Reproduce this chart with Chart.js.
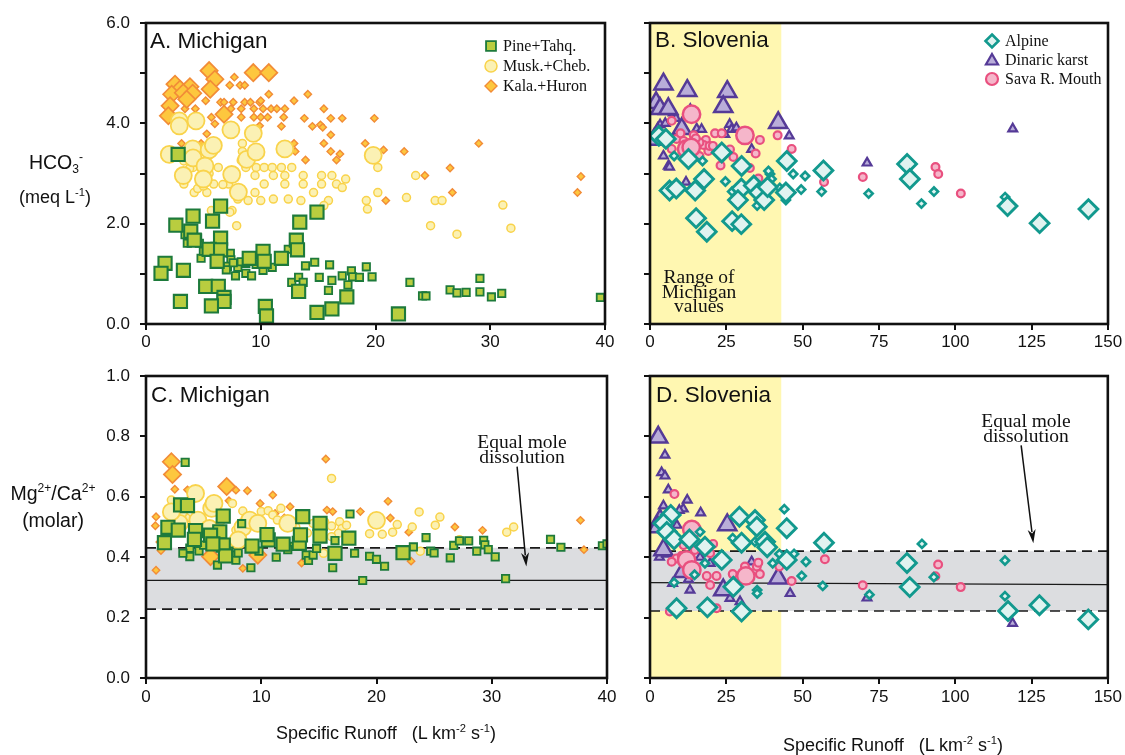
<!DOCTYPE html>
<html><head><meta charset="utf-8">
<script src="https://cdn.jsdelivr.net/npm/chart.js@4.4.1/dist/chart.umd.min.js"></script>
<style>
body{margin:0;background:#fff;width:1125px;height:755px;overflow:hidden;position:relative;font-family:"Liberation Sans",Arial,sans-serif;color:#111;}
canvas{position:absolute;left:0;top:0;}
.t{position:absolute;white-space:nowrap;z-index:5;}
.c{transform:translate(-50%,-50%);text-align:center;}
.l{transform:translate(0,-50%);}
.serif{font-family:"Liberation Serif","Times New Roman",serif;}
sup,sub{font-size:62%;line-height:0;}
.ttl{font-size:22.5px;}
.ax{font-size:19.5px;}
.lg{font-size:16px;}
.ann{font-size:19.5px;line-height:14.6px;}
.xt{font-size:18px;}
</style></head><body>
<canvas id="cA" width="1125" height="755"></canvas>
<canvas id="cB" width="1125" height="755"></canvas>
<canvas id="cC" width="1125" height="755"></canvas>
<canvas id="cD" width="1125" height="755"></canvas>

<div class="t c ax" style="left:56px;top:162px;">HCO<sub>3</sub><sup>-</sup></div>
<div class="t c" style="left:55px;top:197px;font-size:18px;">(meq L<sup>-1</sup>)</div>
<div class="t c ax" style="left:53px;top:493px;">Mg<sup>2+</sup>/Ca<sup>2+</sup></div>
<div class="t c ax" style="left:53px;top:520px;">(molar)</div>
<div class="t c xt" style="left:386px;top:733px;">Specific Runoff&nbsp;&nbsp;&nbsp;(L km<sup>-2</sup> s<sup>-1</sup>)</div>
<div class="t c xt" style="left:893px;top:745px;">Specific Runoff&nbsp;&nbsp;&nbsp;(L km<sup>-2</sup> s<sup>-1</sup>)</div>

<div class="t l ttl" style="left:150px;top:41px;">A. Michigan</div>
<div class="t l ttl" style="left:655px;top:40px;">B. Slovenia</div>
<div class="t l ttl" style="left:151px;top:395px;">C. Michigan</div>
<div class="t l ttl" style="left:656px;top:395px;">D. Slovenia</div>

<div class="t l serif lg" style="left:503px;top:46px;">Pine+Tahq.</div>
<div class="t l serif lg" style="left:503px;top:66px;">Musk.+Cheb.</div>
<div class="t l serif lg" style="left:503px;top:86px;">Kala.+Huron</div>
<div class="t l serif lg" style="left:1005px;top:41px;">Alpine</div>
<div class="t l serif lg" style="left:1005px;top:60px;">Dinaric karst</div>
<div class="t l serif lg" style="left:1005px;top:79px;">Sava R. Mouth</div>

<div class="t c serif ann" style="left:699px;top:292px;">Range of<br>Michigan<br>values</div>
<div class="t c serif ann" style="left:522px;top:450px;">Equal mole<br>dissolution</div>
<div class="t c serif ann" style="left:1026px;top:429px;">Equal mole<br>dissolution</div>

<script>
// ---------------- DATA ----------------
// Panel A: HCO3- (meq/L) vs specific runoff (L km-2 s-1), Michigan
const pineLargeA = [[2.8,3.38],[6.5,2.35],[4.1,2.15],[2.6,1.97],[5.8,2.05],[3.9,1.85],[4.2,1.67],[6.5,1.71],[5.5,1.49],[6.5,1.48],[6.2,1.25],[9.0,1.31],[10.2,1.45],[10.3,1.25],[11.8,1.31],[13.1,1.67],[13.2,1.48],[13.4,2.03],[14.9,2.23],[1.66,1.21],[1.31,1.01],[3.26,1.07],[5.2,0.75],[6.3,0.75],[6.8,0.53],[6.8,0.45],[3.0,0.45],[5.7,0.36],[10.4,0.35],[10.5,0.16],[13.3,0.65],[14.9,0.23],[16.2,0.30],[17.5,0.54],[22.0,0.20]];
const pineSmallA = [[3.4,1.78],[3.6,1.61],[4.65,1.61],[4.8,1.31],[7.35,1.41],[7.4,1.28],[7.1,1.15],[7.0,1.08],[7.8,0.96],[8.0,1.13],[8.7,1.21],[8.7,1.01],[9.2,0.96],[11.0,1.13],[10.2,1.07],[12.4,1.49],[12.7,0.83],[13.3,0.93],[13.7,0.83],[13.9,1.16],[14.7,1.23],[15.1,0.93],[16.0,1.18],[15.9,0.67],[16.2,0.87],[17.1,0.96],[7.6,1.22],[8.3,1.24],[9.6,1.19],[6.0,1.55],[5.0,1.45],[4.5,1.72],[17.9,1.06],[18.0,0.94],[18.6,0.93],[19.2,1.14],[19.7,0.94],[17.6,0.78],[23.0,0.83],[24.1,0.56],[24.4,0.56],[26.5,0.68],[27.1,0.62],[27.9,0.63],[29.1,0.64],[29.1,0.91],[30.1,0.54],[31.0,0.61],[39.6,0.53]];
const muskLargeA = [[2.9,4.05],[2.9,3.95],[4.36,4.05],[7.4,3.87],[9.35,3.80],[2.03,3.38],[4.07,3.49],[5.5,3.47],[5.87,3.56],[4.1,3.31],[8.77,3.28],[9.59,3.43],[12.1,3.49],[5.14,3.15],[3.25,2.96],[5.0,2.89],[7.47,2.98],[8.05,2.63],[19.8,3.36]];
const muskSmallA = [[8.4,3.60],[8.4,3.44],[8.3,3.26],[8.7,3.12],[9.6,3.12],[10.3,3.12],[11.0,3.12],[11.8,3.12],[12.7,3.12],[11.1,2.96],[12.1,2.96],[13.7,2.96],[15.3,2.96],[16.2,2.96],[10.3,2.79],[12.1,2.79],[13.7,2.79],[15.3,2.79],[16.6,2.79],[17.1,2.72],[17.4,2.89],[9.5,2.62],[10.0,2.46],[11.1,2.49],[12.4,2.49],[13.5,2.46],[14.6,2.62],[15.9,2.46],[15.5,2.36],[7.5,2.26],[5.7,2.26],[8.0,2.49],[8.9,2.46],[7.9,1.96],[3.3,2.79],[4.2,2.62],[5.3,2.62],[5.9,2.79],[7.2,2.79],[9.5,2.96],[6.3,3.12],[4.1,3.12],[7.3,2.23],[4.5,2.70],[5.0,2.75],[6.7,2.78],[3.8,3.10],[3.3,3.25],[5.5,3.00],[20.2,3.12],[20.2,2.62],[19.2,2.46],[19.3,2.29],[22.7,2.52],[23.5,2.96],[24.8,1.96],[25.2,2.46],[25.8,2.46],[27.1,1.79],[31.1,2.37],[31.8,1.91]];
const kalaLargeA = [[5.5,5.05],[6.0,4.88],[9.35,5.01],[10.7,5.01],[2.53,4.78],[2.96,4.68],[3.83,4.73],[2.24,4.58],[3.25,4.61],[4.07,4.60],[5.6,4.68],[2.1,4.35],[1.95,4.15],[6.8,4.18],[3.55,4.48]];
const kalaSmallA = [[7.3,4.76],[7.7,4.92],[8.2,4.76],[8.6,4.76],[5.2,4.45],[4.3,4.29],[3.4,4.29],[5.7,4.12],[6.0,3.99],[5.3,3.79],[6.5,4.42],[6.8,4.42],[7.6,4.42],[8.6,4.42],[9.1,4.42],[9.9,4.42],[10.2,4.29],[10.9,4.29],[11.4,4.29],[12.1,4.29],[9.4,4.29],[8.3,4.29],[7.4,4.29],[8.3,4.12],[9.4,4.12],[10.0,4.12],[10.6,4.12],[12.0,4.12],[11.8,3.94],[9.9,3.95],[10.7,4.58],[10.0,4.45],[12.9,4.45],[14.1,4.58],[13.8,4.10],[14.5,3.94],[15.2,3.97],[15.5,4.29],[15.4,3.92],[16.1,4.10],[17.1,4.10],[16.1,3.77],[12.9,3.60],[13.0,3.44],[15.5,3.60],[16.1,3.44],[16.9,3.39],[16.6,3.27],[13.9,3.27],[19.1,3.60],[19.9,4.10],[20.7,3.47],[20.9,2.46],[22.5,3.44],[24.3,2.96],[26.5,3.11],[26.7,2.62],[29.0,3.60],[37.6,2.62],[37.9,2.94],[3.1,3.60],[4.8,3.60]];

// Panel B: HCO3- vs specific runoff, Slovenia
const alpineLargeB = [[2.9,3.75],[5.2,3.69],[12.6,3.29],[23.5,3.42],[17.7,2.89],[30.0,3.15],[44.8,3.25],[6.4,2.66],[8.6,2.70],[14.8,2.66],[15.1,2.11],[18.6,1.84],[26.9,2.05],[29.9,1.99],[29.9,2.70],[28.8,2.47],[34.0,2.76],[35.7,2.62],[37.4,2.47],[38.5,2.73],[44.5,2.62],[56.8,3.06],[84.2,3.19],[85.1,2.89],[117.1,2.35],[127.6,2.01],[143.6,2.29]];
const alpineSmallB = [[7.9,3.35],[17.2,3.25],[24.7,2.84],[26.9,2.64],[35.1,2.36],[39.3,2.99],[39.8,2.89],[42.5,2.71],[44.5,2.47],[46.9,2.99],[49.5,2.68],[50.8,2.95],[56.2,2.64],[71.6,2.60],[88.9,2.40],[93.0,2.64],[116.3,2.53],[38.8,3.05]];
const dinaricLargeB = [[4.4,4.78],[12.2,4.65],[25.3,4.63],[24.0,4.33],[2.0,4.41],[3.3,4.29],[6.0,4.29],[10.4,3.89],[42.0,4.01],[1.4,3.68]];
const dinaricSmallB = [[7.6,4.21],[3.3,3.97],[13.2,4.28],[15.3,3.89],[16.9,3.88],[26.1,3.98],[26.7,3.88],[28.3,3.91],[24.5,3.78],[45.6,3.75],[33.3,3.48],[4.4,3.35],[6.0,3.15],[6.4,3.13],[11.8,2.83],[71.1,3.21],[118.8,3.89],[2.5,3.90],[8.5,4.10],[5.0,4.00]];
const savaLargeB = [[13.6,4.18],[31.1,3.76],[12.0,3.49],[13.5,3.52]];
const savaSmallB = [[7.1,4.05],[21.3,3.80],[23.5,3.80],[18.3,3.67],[26.2,3.48],[27.3,3.33],[36.0,3.67],[41.8,3.76],[46.4,3.49],[17.5,3.57],[19.1,3.45],[23.1,3.16],[32.7,3.11],[35.5,2.90],[7.1,3.49],[8.7,3.69],[16.2,3.35],[14.3,3.76],[16.2,3.62],[19.5,3.55],[20.6,3.55],[34.6,3.40],[57.0,2.83],[69.7,2.93],[93.5,3.13],[94.4,2.99],[101.8,2.60],[10.0,3.80],[11.0,3.65],[15.0,3.70]];

// Panel C: Mg/Ca (molar) vs specific runoff, Michigan
const pineLargeC = [[1.6,0.448],[3.0,0.573],[3.6,0.571],[1.9,0.499],[2.8,0.490],[4.3,0.488],[4.2,0.459],[6.7,0.536],[6.4,0.484],[6.7,0.440],[6.9,0.404],[5.6,0.473],[5.8,0.444],[9.2,0.437],[10.6,0.457],[11.9,0.443],[13.3,0.446],[13.4,0.474],[13.6,0.534],[15.1,0.512],[15.1,0.470],[16.4,0.413],[17.6,0.463],[22.3,0.415],[10.5,0.475]];
const pineSmallC = [[3.4,0.714],[3.8,0.430],[3.8,0.402],[3.2,0.413],[4.6,0.421],[6.2,0.374],[7.7,0.407],[7.8,0.390],[11.3,0.400],[13.9,0.407],[14.1,0.389],[14.5,0.407],[14.8,0.429],[16.2,0.365],[16.4,0.455],[17.7,0.543],[18.1,0.413],[9.1,0.365],[18.8,0.323],[19.4,0.403],[20.0,0.393],[20.7,0.370],[23.2,0.434],[24.3,0.465],[24.7,0.420],[25.0,0.414],[26.4,0.398],[26.7,0.439],[27.2,0.454],[28.0,0.454],[28.7,0.420],[29.3,0.456],[29.4,0.441],[29.7,0.425],[30.3,0.401],[31.2,0.329],[35.1,0.459],[36.0,0.433],[39.6,0.438],[40.0,0.444],[8.0,0.414],[8.3,0.511],[12.8,0.436],[5.0,0.440],[7.2,0.420],[9.8,0.420],[12.3,0.425]];
const muskLargeC = [[4.3,0.611],[2.9,0.556],[5.7,0.562],[4.5,0.523],[8.4,0.499],[9.0,0.523],[9.7,0.512],[8.0,0.457],[12.3,0.512],[5.5,0.495],[2.9,0.512],[5.9,0.578],[20.0,0.522],[2.2,0.550]];
const muskSmallC = [[16.1,0.661],[2.2,0.589],[7.5,0.578],[8.7,0.534],[10.0,0.551],[10.6,0.554],[11.7,0.562],[8.4,0.553],[11.0,0.540],[14.5,0.512],[15.5,0.517],[16.1,0.503],[16.8,0.517],[17.0,0.495],[16.7,0.479],[16.1,0.468],[17.4,0.506],[15.4,0.413],[7.8,0.490],[11.4,0.523],[23.7,0.550],[25.5,0.533],[25.1,0.506],[23.1,0.500],[21.8,0.508],[21.4,0.483],[20.5,0.476],[19.4,0.478],[23.8,0.420],[31.3,0.483],[31.9,0.500],[27.2,0.458],[13.0,0.500],[14.0,0.480],[6.5,0.520],[3.5,0.530]];
const kalaLargeC = [[2.2,0.716],[2.3,0.674],[7.0,0.634],[5.6,0.402],[9.7,0.407]];
const kalaSmallC = [[2.5,0.625],[3.6,0.623],[0.87,0.534],[0.81,0.504],[0.87,0.357],[1.3,0.422],[1.2,0.450],[7.8,0.622],[8.8,0.620],[11.0,0.606],[9.9,0.578],[12.5,0.567],[11.2,0.545],[7.2,0.587],[15.6,0.725],[15.7,0.556],[16.2,0.551],[18.6,0.551],[8.4,0.363],[21.0,0.585],[21.2,0.530],[23.0,0.387],[22.8,0.483],[26.8,0.500],[29.2,0.489],[37.7,0.522],[38.0,0.425],[13.5,0.381],[4.5,0.600],[6.0,0.570],[12.0,0.530]];

// Panel D: Mg/Ca (molar) vs specific runoff, Slovenia
const alpineLargeD = [[6.8,0.540],[4.4,0.512],[5.5,0.484],[7.9,0.459],[12.9,0.459],[18.0,0.435],[23.5,0.391],[29.3,0.534],[30.0,0.448],[34.4,0.523],[35.0,0.501],[37.7,0.451],[38.4,0.433],[44.8,0.496],[44.8,0.391],[57.0,0.448],[8.7,0.231],[18.8,0.234],[30.0,0.220],[27.3,0.302],[84.2,0.381],[85.1,0.301],[117.3,0.222],[127.6,0.241],[143.6,0.194]];
const alpineSmallD = [[7.9,0.316],[16.4,0.484],[18.0,0.380],[27.1,0.463],[34.4,0.451],[35.1,0.291],[35.1,0.280],[40.2,0.380],[42.4,0.411],[44.0,0.559],[47.2,0.411],[51.1,0.385],[49.7,0.338],[56.6,0.305],[71.9,0.276],[89.1,0.444],[93.0,0.334],[116.3,0.389],[116.3,0.271],[14.6,0.342]];
const dinaricLargeD = [[2.7,0.797],[4.4,0.424],[25.3,0.507],[42.0,0.330],[24.0,0.291],[10.9,0.352],[3.3,0.523],[2.5,0.500]];
const dinaricSmallD = [[4.9,0.738],[3.8,0.680],[4.9,0.669],[6.0,0.623],[4.4,0.570],[12.2,0.589],[16.6,0.547],[10.9,0.560],[9.6,0.555],[19.7,0.380],[13.1,0.291],[7.4,0.313],[12.6,0.327],[26.2,0.264],[29.5,0.253],[33.3,0.385],[45.9,0.280],[71.1,0.265],[118.8,0.181],[3.1,0.400],[5.5,0.410],[8.8,0.506],[16.4,0.400]];
const savaLargeD = [[13.7,0.492],[12.0,0.391],[13.7,0.358],[31.4,0.338]];
const savaSmallD = [[8.0,0.609],[20.7,0.444],[8.7,0.396],[7.1,0.385],[14.7,0.424],[19.7,0.413],[18.6,0.338],[21.8,0.338],[19.7,0.308],[21.8,0.231],[6.5,0.220],[27.1,0.344],[31.1,0.369],[35.0,0.369],[35.5,0.382],[36.0,0.344],[42.4,0.369],[46.4,0.321],[57.3,0.393],[69.7,0.307],[93.5,0.337],[94.4,0.376],[101.8,0.301],[10.4,0.405],[15.1,0.487],[11.0,0.440]];

// Reference lines (Mg/Ca) and Michigan runoff range
const equalMoleC = [[0,0.323],[40,0.323]];
const bandHighC = [[0,0.431],[40,0.431]];
const bandLowC = [[0,0.228],[40,0.228]];
const equalMoleD = [[0,0.316],[150,0.309]];
const bandHighD = [[0,0.420],[150,0.420]];
const bandLowD = [[0,0.222],[150,0.222]];
const michiganRunoffRange = [0, 43];
const arrowC = [[32.2,0.700],[33.0,0.369]];
const arrowD = [[121.6,0.770],[125.6,0.446]];

// Tick labels
const hcoTickLabels = ['0.0','','2.0','','4.0','','6.0'];
const ratioTickLabels = ['0.0','0.2','0.4','0.6','0.8','1.0'];
const miRunoffTicks = ['0','10','20','30','40'];
const slRunoffTicks = ['0','25','50','75','100','125','150'];

// ---------------- STYLES ----------------
const ST = {
  pine:    {shape:'rect',    fill:'#b9cd3f', stroke:'#1d7a3b', bw:1.8, rL:9.3, rS:5.2},
  musk:    {shape:'circle',  fill:'#fbf1b4', stroke:'#f9d34b', bw:1.5, rL:8.5, rS:4.0},
  kala:    {shape:'rectRot', fill:'#fdc73e', stroke:'#f28c37', bw:1.4, rL:8.6, rS:3.7},
  alpine:  {shape:'rectRot', fill:'#e0f3f0', stroke:'#12998e', bw:2.6, rL:9.4, rS:4.1},
  dinaric: {shape:'triangle',fill:'#b9add9', stroke:'#553a97', bw:2.2, rL:10.5, rS:5.1},
  sava:    {shape:'circle',  fill:'#f5b6ca', stroke:'#e9507f', bw:2.2, rL:8.7, rS:3.9}
};

function pts(a){ return a.map(p => ({x:p[0], y:p[1]})); }
function sc(label, arr, st, big, order){
  const r = big ? st.rL : st.rS;
  return {type:'scatter', label, data:pts(arr), order,
    pointStyle:st.shape, pointRadius:r, pointHoverRadius:r,
    pointBackgroundColor:st.fill, pointBorderColor:st.stroke,
    pointBorderWidth: big ? st.bw + 0.3 : st.bw,
    backgroundColor:st.fill, borderColor:st.stroke, showLine:false};
}
function refLine(arr, dashed, fill, order){
  return {type:'line', data:pts(arr), order, pointRadius:0, borderColor:'#1a1a1a',
    borderWidth: dashed ? 1.6 : 1.3, borderDash: dashed ? [10,6] : [],
    fill: fill ? '+1' : false, backgroundColor:'#dcdde0', tension:0};
}

const frame = {id:'frame', afterDatasetsDraw(chart){
  const a = chart.chartArea, ctx = chart.ctx;
  ctx.save(); ctx.strokeStyle = '#111'; ctx.lineWidth = 2.6;
  ctx.strokeRect(a.left, a.top, a.right - a.left, a.bottom - a.top); ctx.restore();
}};
const rangeBand = {id:'rangeBand', beforeDatasetsDraw(chart){
  const a = chart.chartArea, ctx = chart.ctx, xs = chart.scales.x;
  const x0 = xs.getPixelForValue(michiganRunoffRange[0]), x1 = xs.getPixelForValue(michiganRunoffRange[1]);
  ctx.save(); ctx.fillStyle = '#fff7b1'; ctx.fillRect(x0, a.top, x1 - x0, a.bottom - a.top); ctx.restore();
}};
function arrowPlugin(arr){ return {id:'arrow', afterDatasetsDraw(chart){
  const xs = chart.scales.x, ys = chart.scales.y, ctx = chart.ctx;
  const x1 = xs.getPixelForValue(arr[0][0]), y1 = ys.getPixelForValue(arr[0][1]);
  const x2 = xs.getPixelForValue(arr[1][0]), y2 = ys.getPixelForValue(arr[1][1]);
  const ang = Math.atan2(y2 - y1, x2 - x1), L = 14, W = 4;
  ctx.save(); ctx.strokeStyle = '#111'; ctx.fillStyle = '#111'; ctx.lineWidth = 1.5;
  ctx.beginPath(); ctx.moveTo(x1, y1); ctx.lineTo(x2 - L*0.8*Math.cos(ang), y2 - L*0.8*Math.sin(ang)); ctx.stroke();
  ctx.beginPath(); ctx.moveTo(x2, y2);
  ctx.lineTo(x2 - L*Math.cos(ang) + W*Math.sin(ang), y2 - L*Math.sin(ang) - W*Math.cos(ang));
  ctx.lineTo(x2 - L*0.7*Math.cos(ang), y2 - L*0.7*Math.sin(ang));
  ctx.lineTo(x2 - L*Math.cos(ang) - W*Math.sin(ang), y2 - L*Math.sin(ang) + W*Math.cos(ang));
  ctx.closePath(); ctx.fill(); ctx.restore();
}};}
function drawSym(ctx, st, x, y, r){
  ctx.save(); ctx.beginPath();
  if (st.shape === 'rect'){ const s = r*Math.SQRT1_2; ctx.rect(x-s, y-s, 2*s, 2*s); }
  else if (st.shape === 'circle'){ ctx.arc(x, y, r, 0, Math.PI*2); }
  else if (st.shape === 'rectRot'){ ctx.moveTo(x, y-r); ctx.lineTo(x+r, y); ctx.lineTo(x, y+r); ctx.lineTo(x-r, y); ctx.closePath(); }
  else if (st.shape === 'triangle'){ ctx.moveTo(x, y-r); ctx.lineTo(x+r*0.866, y+r*0.5); ctx.lineTo(x-r*0.866, y+r*0.5); ctx.closePath(); }
  ctx.fillStyle = st.fill; ctx.fill(); ctx.lineWidth = st.bw; ctx.strokeStyle = st.stroke; ctx.stroke(); ctx.restore();
}
function legendPlugin(items){ return {id:'legendSym', afterDraw(chart){
  items.forEach(it => drawSym(chart.ctx, it.st, it.x, it.y, it.r));
}};}

const FONT = {family:'"Liberation Sans", Arial, sans-serif', size:17};
function panel(id, area, xCfg, yCfg, datasets, plugins){
  const YW = 60, XH = 30;
  return new Chart(document.getElementById(id), {
    type:'scatter',
    data:{datasets},
    options:{
      responsive:false, animation:false, devicePixelRatio:1, events:[],
      layout:{padding:{left:area.left - YW, right:1125 - area.right, top:area.top, bottom:755 - area.bottom - XH}},
      plugins:{legend:{display:false}, tooltip:{enabled:false}},
      scales:{
        x:{type:'linear', min:xCfg.min, max:xCfg.max,
          afterFit(s){ s.height = XH; },
          afterBuildTicks(s){ s.ticks = xCfg.labels.map((_, i) => ({value: xCfg.min + i*xCfg.step})); },
          ticks:{font:FONT, color:'#111', padding:xCfg.pad, maxRotation:0, autoSkip:false,
            callback:(v, i) => xCfg.labels[i]},
          grid:{display:true, drawOnChartArea:false, drawTicks:true, tickLength:6, color:'#111', lineWidth:2},
          border:{display:false}},
        y:{type:'linear', min:yCfg.min, max:yCfg.max,
          afterFit(s){ s.width = YW; },
          afterBuildTicks(s){ s.ticks = yCfg.labels.map((_, i) => ({value: yCfg.min + i*yCfg.step})); },
          ticks:{font:FONT, color:'#111', padding:10, autoSkip:false,
            callback:(v, i) => yCfg.show ? yCfg.labels[i] : ''},
          grid:{display:true, drawOnChartArea:false, drawTicks:true, tickLength:6, color:'#111', lineWidth:2},
          border:{display:false}}
      }
    },
    plugins: plugins
  });
}

const hcoTicks = {min:0, max:6, step:1, labels:hcoTickLabels};
const ratioTicks = {min:0, max:1, step:0.2, labels:ratioTickLabels};

// A
panel('cA', {left:146, right:605, top:23, bottom:324},
  {min:0, max:40, step:10, labels:miRunoffTicks, pad:2},
  Object.assign({show:true}, hcoTicks),
  [sc('Pine+Tahq.', pineLargeA, ST.pine, true, 1), sc('Pine+Tahq.', pineSmallA, ST.pine, false, 2),
   sc('Musk.+Cheb.', muskLargeA, ST.musk, true, 3), sc('Musk.+Cheb.', muskSmallA, ST.musk, false, 4),
   sc('Kala.+Huron', kalaLargeA, ST.kala, true, 5), sc('Kala.+Huron', kalaSmallA, ST.kala, false, 6)],
  [frame, legendPlugin([{st:ST.pine, x:491, y:46, r:7}, {st:ST.musk, x:491, y:66, r:6}, {st:ST.kala, x:491, y:86, r:6}])]);

// B
panel('cB', {left:650, right:1108, top:23, bottom:324},
  {min:0, max:150, step:25, labels:slRunoffTicks, pad:2},
  Object.assign({show:false}, hcoTicks),
  [sc('Alpine', alpineLargeB, ST.alpine, true, 1), sc('Alpine', alpineSmallB, ST.alpine, false, 2),
   sc('Sava R. Mouth', savaLargeB, ST.sava, true, 3), sc('Sava R. Mouth', savaSmallB, ST.sava, false, 4),
   sc('Dinaric karst', dinaricLargeB, ST.dinaric, true, 5), sc('Dinaric karst', dinaricSmallB, ST.dinaric, false, 6)],
  [rangeBand, frame, legendPlugin([{st:ST.alpine, x:992, y:41, r:6.5}, {st:ST.dinaric, x:992, y:61, r:7}, {st:ST.sava, x:992, y:79, r:6}])]);

// C
panel('cC', {left:146, right:607, top:376, bottom:678},
  {min:0, max:40, step:10, labels:miRunoffTicks, pad:3},
  Object.assign({show:true}, ratioTicks),
  [refLine(bandHighC, true, true, 21), refLine(bandLowC, true, false, 19), refLine(equalMoleC, false, false, 18),
   sc('Pine+Tahq.', pineLargeC, ST.pine, true, 1), sc('Pine+Tahq.', pineSmallC, ST.pine, false, 2),
   sc('Musk.+Cheb.', muskLargeC, ST.musk, true, 4), sc('Musk.+Cheb.', muskSmallC, ST.musk, false, 5),
   sc('Kala.+Huron', kalaLargeC, ST.kala, true, 3), sc('Kala.+Huron', kalaSmallC, ST.kala, false, 6)],
  [frame, arrowPlugin(arrowC)]);

// D
panel('cD', {left:650, right:1108, top:376, bottom:678},
  {min:0, max:150, step:25, labels:slRunoffTicks, pad:3},
  Object.assign({show:false}, ratioTicks),
  [refLine(bandHighD, true, true, 21), refLine(bandLowD, true, false, 19), refLine(equalMoleD, false, false, 18),
   sc('Alpine', alpineLargeD, ST.alpine, true, 1), sc('Alpine', alpineSmallD, ST.alpine, false, 2),
   sc('Sava R. Mouth', savaLargeD, ST.sava, true, 3), sc('Sava R. Mouth', savaSmallD, ST.sava, false, 4),
   sc('Dinaric karst', dinaricLargeD, ST.dinaric, true, 5), sc('Dinaric karst', dinaricSmallD, ST.dinaric, false, 6)],
  [rangeBand, frame, arrowPlugin(arrowD)]);
</script>
</body></html>
